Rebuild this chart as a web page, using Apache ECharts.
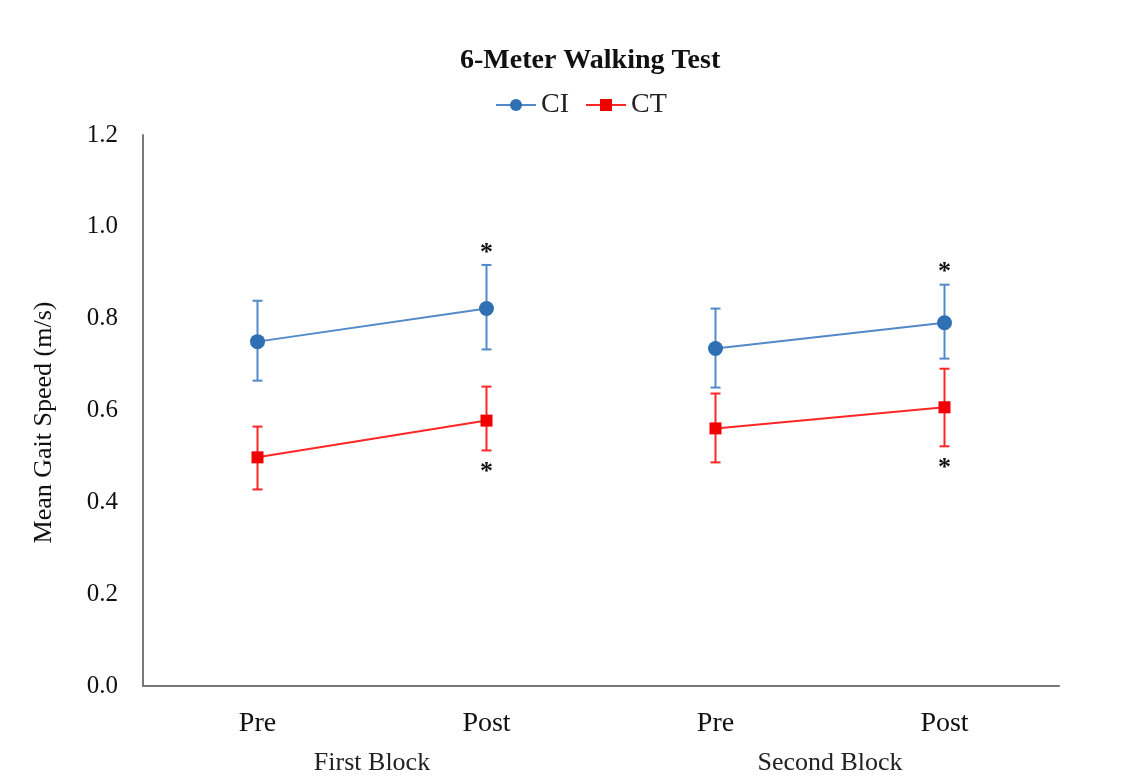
<!DOCTYPE html>
<html>
<head>
<meta charset="utf-8">
<script src="https://cdn.jsdelivr.net/npm/echarts@6/dist/echarts.min.js"></script>
<style>html,body{margin:0;padding:0;background:#fff;}#chart{width:1121px;height:779px;}</style>
</head>
<body>
<div id="chart"></div>
<script>
const categories = ['Pre', 'Post', 'Pre', 'Post'];
const blocks = ['First Block', 'Second Block'];
const blockOf = [0, 0, 1, 1];
const ciMean = [0.750, 0.822, 0.735, 0.791];
const ciLow  = [0.665, 0.733, 0.650, 0.713];
const ciHigh = [0.839, 0.917, 0.822, 0.874];
const ctMean = [0.498, 0.578, 0.561, 0.607];
const ctLow  = [0.428, 0.513, 0.487, 0.522];
const ctHigh = [0.565, 0.652, 0.637, 0.691];
const ciSig = ['', '*', '', '*'];   // marked above upper bar
const ctSig = ['', '*', '', '*'];   // marked below lower bar
const yMin = 0, yMax = 1.2, yStep = 0.2;

const FONT = '"Liberation Serif", "Times New Roman", serif';
const CI_COLOR = '#5289C8';
const CI_MARK = '#2F6FB3';
const CT_COLOR = '#FF2626';
const CT_MARK = '#F00000';

function blockData(vals, b) {
  return vals.map((v, i) => blockOf[i] === b ? v : '-');
}

function errSeries(name, low, high, sig, above, color) {
  return {
    name: name,
    type: 'custom',
    xAxisIndex: 0,
    z: 3,
    itemStyle: { color: color },
    data: categories.map((c, i) => [i, low[i], high[i]]),
    renderItem: function (params, api) {
      const i = api.value(0);
      const pLo = api.coord([i, api.value(1)]);
      const pHi = api.coord([i, api.value(2)]);
      const cap = 5;
      const st = { stroke: color, lineWidth: 2 };
      const children = [
        { type: 'line', shape: { x1: pLo[0], y1: pLo[1], x2: pHi[0], y2: pHi[1] }, style: st },
        { type: 'line', shape: { x1: pLo[0] - cap, y1: pLo[1], x2: pLo[0] + cap, y2: pLo[1] }, style: st },
        { type: 'line', shape: { x1: pHi[0] - cap, y1: pHi[1], x2: pHi[0] + cap, y2: pHi[1] }, style: st }
      ];
      const s = sig[params.dataIndex];
      if (s) {
        const y = above ? pHi[1] - 12 : pLo[1] + 22;
        children.push({
          type: 'text',
          style: { text: s, x: pHi[0], y: y, align: 'center', verticalAlign: 'middle',
                   font: 'bold 26px ' + FONT, fill: '#111' }
        });
      }
      return { type: 'group', children: children };
    }
  };
}

function lineSeries(name, vals, b, color, markColor, symbol, size) {
  return {
    name: name,
    type: 'line',
    xAxisIndex: 0,
    z: 4,
    data: blockData(vals, b),
    symbol: symbol,
    symbolSize: size,
    showSymbol: true,
    lineStyle: { color: color, width: 2 },
    itemStyle: { color: markColor },
    connectNulls: false
  };
}

const chart = echarts.init(document.getElementById('chart'), null, { renderer: 'canvas' });
chart.setOption({
  backgroundColor: '#ffffff',
  animation: false,
  title: {
    text: '6-Meter Walking Test',
    left: 455,
    top: 42,
    textStyle: { fontFamily: FONT, fontWeight: 'bold', fontSize: 28, color: '#111' }
  },
  legend: {
    data: ['CI', 'CT'],
    top: 86,
    left: 490,
    itemWidth: 40,
    itemHeight: 15,
    itemGap: 16,
    textStyle: { fontFamily: FONT, fontSize: 28, color: '#222' }
  },
  grid: { left: 143, right: 62, top: 135, bottom: 93, containLabel: false },
  xAxis: [
    {
      type: 'category',
      data: categories,
      position: 'bottom',
      boundaryGap: true,
      axisLine: { show: true, lineStyle: { color: '#777', width: 2 } },
      axisTick: { show: false },
      axisLabel: { margin: 24, fontFamily: FONT, fontSize: 28, color: '#111' }
    },
    {
      type: 'category',
      data: blocks,
      position: 'bottom',
      boundaryGap: true,
      axisLine: { show: false },
      axisTick: { show: false },
      axisLabel: { margin: 64, fontFamily: FONT, fontSize: 26, color: '#222' }
    }
  ],
  yAxis: {
    type: 'value',
    min: yMin,
    max: yMax,
    interval: yStep,
    name: 'Mean Gait Speed (m/s)',
    nameLocation: 'middle',
    nameGap: 86,
    nameTextStyle: { fontFamily: FONT, fontSize: 26, color: '#111', padding: [0, 24, 0, 0] },
    axisLine: { show: true, lineStyle: { color: '#777', width: 2 } },
    axisTick: { show: false },
    splitLine: { show: false },
    axisLabel: { margin: 25, fontFamily: FONT, fontSize: 25, color: '#111',
                 formatter: v => v.toFixed(1) }
  },
  series: [
    lineSeries('CI', ciMean, 0, CI_COLOR, CI_MARK, 'circle', 15),
    lineSeries('CI', ciMean, 1, CI_COLOR, CI_MARK, 'circle', 15),
    lineSeries('CT', ctMean, 0, CT_COLOR, CT_MARK, 'rect', 12),
    lineSeries('CT', ctMean, 1, CT_COLOR, CT_MARK, 'rect', 12),
    errSeries('CI', ciLow, ciHigh, ciSig, true, CI_COLOR),
    errSeries('CT', ctLow, ctHigh, ctSig, false, CT_COLOR)
  ]
});
</script>
</body>
</html>
